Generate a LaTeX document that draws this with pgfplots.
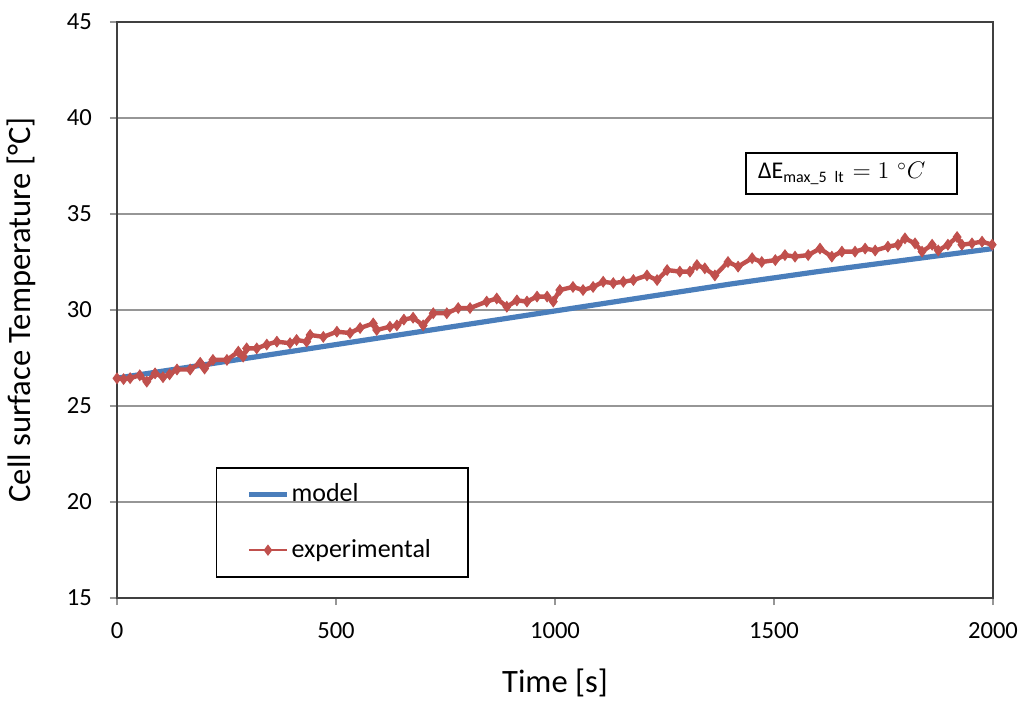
\documentclass[border=0pt]{standalone}
\usepackage{fontspec}
\setmainfont{Carlito}
\usepackage{pgfplots}
\pgfplotsset{compat=1.18}
\definecolor{mblue}{RGB}{74,126,187}
\definecolor{ered}{RGB}{192,80,77}
\definecolor{gridg}{RGB}{150,150,150}
\begin{document}
\begin{tikzpicture}
\begin{axis}[name=ax, scale only axis, width=438pt, height=288pt,
  xmin=0, xmax=2000, ymin=15, ymax=45,
  xtick={0,500,1000,1500,2000}, ytick={15,20,25,30,35,40,45},
  ymajorgrids, grid style={gridg, line width=0.6pt},
  axis line style={black!75, line width=0.6pt},
  tick align=outside, major tick length=3.5pt, tick style={gridg, line width=0.6pt},
  xtick pos=left, ytick pos=left,
  /pgf/number format/assume math mode=true,
  /pgf/number format/1000 sep={},
  ticklabel style={font=\fontsize{12.3}{14}\selectfont},
  xticklabel style={yshift=-5pt},
  yticklabel style={xshift=-5.5pt},
  xlabel={Time [s]}, ylabel={Cell surface Temperature [°C]},
  label style={font=\fontsize{16.3}{19}\selectfont},
  xlabel style={at={(axis description cs:0.5,-0.1472)}, anchor=center},
  ylabel style={at={(axis description cs:-0.1096,0.5)}, anchor=center},
  legend image code/.code={\draw[mark repeat=2,mark phase=2,#1] plot coordinates {(0pt,0pt)(9.5pt,0pt)(19pt,0pt)};},
  legend style={draw=none, fill=none, at={(axis description cs:0.1472,0.2028)}, anchor=north west,
    font=\fontsize{13}{15}\selectfont, row sep=15.5pt, inner sep=0pt,
    nodes={inner sep=1pt}},
  legend cell align=left,
]
\addplot[mblue, line width=2.6pt] coordinates {
(0,26.45) (200,27.15) (400,27.85) (600,28.55) (800,29.25) (1000,29.95)
(1200,30.65) (1400,31.35) (1600,32.0) (1800,32.6) (2000,33.2)
};
\addlegendentry{model}
\addplot[ered, line width=2.2pt, mark=diamond*, mark size=2.6pt, mark options={solid, fill=ered, line width=0.5pt}, forget plot] coordinates {
(0,26.44) (15,26.4) (30,26.45) (52,26.6) (68,26.27) (87,26.7) (105,26.5) (120,26.65)
(137,26.9) (167,26.9) (190,27.25) (200,26.95) (219,27.4) (251,27.4) (277,27.83) (288,27.57)
(296,28.0) (319,28.0) (342,28.2) (365,28.35) (395,28.27) (410,28.44) (433,28.35) (441,28.7)
(471,28.6) (502,28.87) (532,28.8) (555,29.06) (585,29.3) (593,28.96) (623,29.13) (639,29.2)
(655,29.5) (676,29.6) (699,29.2) (722,29.83) (753,29.83) (779,30.1) (806,30.1) (844,30.44)
(867,30.6) (890,30.17) (913,30.5) (936,30.44) (959,30.7) (982,30.7) (996,30.44) (1011,31.04)
(1041,31.2) (1064,31.04) (1087,31.2) (1110,31.47) (1133,31.4) (1156,31.47) (1179,31.56) (1210,31.8)
(1233,31.56) (1256,32.08) (1285,32.0) (1308,32.0) (1324,32.34) (1342,32.17) (1365,31.8) (1395,32.5)
(1418,32.26) (1450,32.7) (1472,32.5) (1503,32.6) (1525,32.86) (1548,32.78) (1578,32.86) (1605,33.2)
(1632,32.78) (1655,33.04) (1685,33.04) (1708,33.2) (1731,33.1) (1760,33.3) (1783,33.4) (1799,33.73)
(1822,33.47) (1838,33.04) (1861,33.4) (1875,33.1) (1897,33.4) (1918,33.8) (1929,33.4) (1952,33.47)
(1975,33.56) (1998,33.4)
};
\addlegendimage{ered, line width=0.8pt, mark=diamond*, mark size=2.2pt, mark options={solid, fill=ered}}
\addlegendentry{experimental}
\draw[black, line width=0.6pt] (axis description cs:0.114,0.0365) rectangle (axis description cs:0.4007,0.2257);
\node[draw=black, line width=0.6pt, fill=white, inner xsep=6pt, inner ysep=0pt, text width=93.5pt, minimum height=20.5pt, align=left, font=\fontsize{12}{14}\selectfont] at (axis cs:1677,37.11) {ΔE\textsubscript{max\_5 lt} $=1\ {}^{\circ}C$};
\end{axis}
\pgfresetboundingbox
\path[use as bounding box] ([xshift=-58.5pt,yshift=-51pt]ax.south west) rectangle ([xshift=15.5pt,yshift=11pt]ax.north east);
\end{tikzpicture}
\end{document}
